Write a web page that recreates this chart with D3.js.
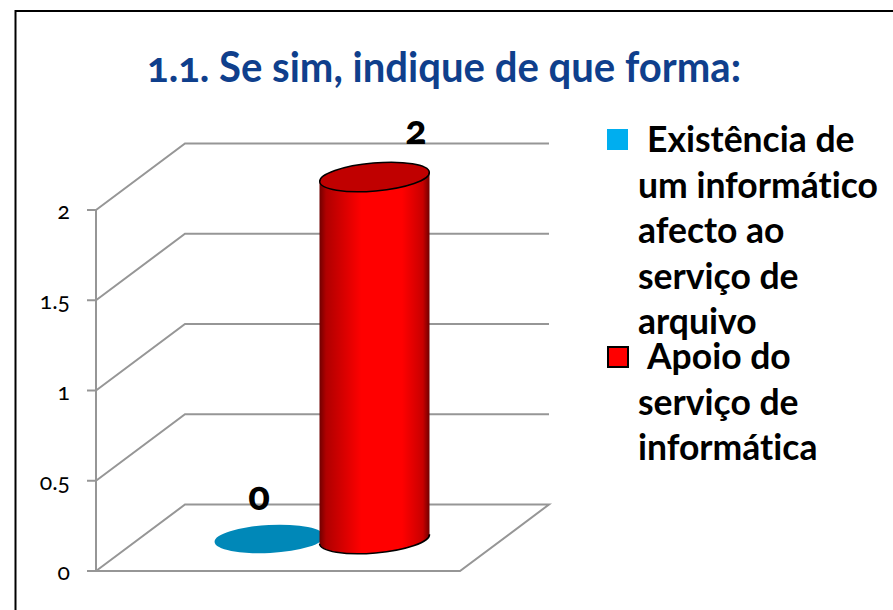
<!DOCTYPE html>
<html><head><meta charset="utf-8">
<script src="https://cdn.jsdelivr.net/npm/d3@7"></script>
<style>html,body{margin:0;padding:0;background:#fff;overflow:hidden}svg{display:block}text{font-family:Lato,"Open Sans",sans-serif;font-variant-numeric:oldstyle-nums;font-variant-ligatures:none;font-feature-settings:"onum" 1,"liga" 0}</style>
</head><body><svg id="c" width="893" height="610"></svg>
<script>
const title = "1.1. Se sim, indique de que forma:";
const categories = ["Existência de um informático afecto ao serviço de arquivo", "Apoio do serviço de informática"];
const seriesValues = [0, 2];
const dataLabels = ["0", "2"];
const tickValues = [0, 0.5, 1, 1.5, 2];
const tickLabels = ["0", "0.5", "1", "1.5", "2"];
const legendLines = [["Existência de", "um informático", "afecto ao", "serviço de", "arquivo"], ["Apoio do", "serviço de", "informática"]];
const colors = ["#00aeef", "#ff0000"];

const svg = d3.select("#c");
svg.append("path").attr("d", "M15.5,610V11H893").attr("fill", "none").attr("stroke", "#000").attr("stroke-width", 2);

svg.append("text").attr("x", 147).attr("y", 82).attr("font-size", 42).attr("font-weight", 700)
  .attr("fill", "#0f3f8c").attr("textLength", 594).attr("lengthAdjust", "spacingAndGlyphs").text(title);

const y = d3.scaleLinear().domain([0, 2]).range([571, 210]);
const depth = {x: 89, y: -66.5};
const x0 = 96, floorW = 364;
const grid = "#969696";

const gGrid = svg.append("g").attr("fill", "none").attr("stroke", grid).attr("stroke-width", 2);
gGrid.selectAll("path.g").data(tickValues.filter(v => v > 0)).join("path")
  .attr("d", v => `M${x0},${y(v)}L${x0 + depth.x},${y(v) + depth.y}H${x0 + depth.x + floorW}`);
gGrid.append("path").attr("d", `M${x0},${y(0)}L${x0 + depth.x},${y(0) + depth.y}H${x0 + depth.x + floorW}L${x0 + floorW},${y(0)}H${x0}`);
gGrid.append("path").attr("d", `M${x0},${y(2)}V${y(0)}`);
gGrid.selectAll("path.t").data(tickValues).join("path").attr("class", "t").attr("d", v => `M${x0 - 9},${y(v)}H${x0}`);

svg.append("g").selectAll("text").data(tickValues).join("text")
  .attr("x", 70).attr("y", v => y(v) + 9).attr("text-anchor", "end").attr("font-size", 23).attr("fill", "#000")
  .text((v, i) => tickLabels[i]);

const xBand = d3.scaleBand().domain(categories).range([215, 429]).paddingInner(0);
const defs = svg.append("defs");
const grad = defs.append("linearGradient").attr("id", "cyl");
[[0, "#700000"], [0.06, "#b00000"], [0.38, "#ff0000"], [0.75, "#ff0000"], [0.94, "#c80000"], [1, "#700000"]]
  .forEach(s => grad.append("stop").attr("offset", s[0]).attr("stop-color", s[1]));

const rx = 55, ry = 14, tilt = -5, lift = 33;
categories.forEach((c, i) => {
  const v = seriesValues[i];
  const cx = xBand(c) + xBand.bandwidth() / 2 + (i === 0 ? 1 : -1);
  const base = y(0) - lift, top = y(v) - lift;
  if (v === 0) {
    svg.append("ellipse").attr("rx", rx).attr("ry", ry).attr("fill", "#0088b8")
      .attr("transform", `translate(${cx},${base + 1}) rotate(-3)`);
  } else {
    const dx = rx, dy = rx * Math.sin(tilt * Math.PI / 180);
    const b = base + 1;
    svg.append("path")
      .attr("d", `M${cx - dx},${top - dy}L${cx - dx},${b - dy}
        A${rx},${ry} ${tilt} 0 0 ${cx + dx},${b + dy}L${cx + dx},${top + dy}
        A${rx},${ry} ${tilt} 0 0 ${cx - dx},${top - dy}Z`)
      .attr("fill", "url(#cyl)");
    svg.append("path")
      .attr("d", `M${cx - dx},${b - dy}A${rx},${ry} ${tilt} 0 0 ${cx + dx},${b + dy}`)
      .attr("fill", "none").attr("stroke", "#000").attr("stroke-width", 1.5);
    svg.append("ellipse").attr("rx", rx).attr("ry", ry).attr("fill", "#c00000").attr("stroke", "#000").attr("stroke-width", 1.5)
      .attr("transform", `translate(${cx},${top}) rotate(${tilt})`);
  }
});

svg.append("g").selectAll("text").data(seriesValues).join("text")
  .attr("x", (v, i) => i === 0 ? 259 : 416).attr("y", (v, i) => i === 0 ? 510 : 144)
  .attr("text-anchor", "middle").attr("font-size", 40).attr("font-weight", 900).attr("fill", "#000")
  .text((v, i) => dataLabels[i]);

const legY = [152, 369];
const lh = 45.5;
legendLines.forEach((lines, i) => {
  svg.append("rect").attr("x", i ? 608 : 607).attr("y", legY[i] - 23 + (i ? 1 : 0)).attr("width", i ? 20 : 21).attr("height", i ? 20 : 21)
    .attr("fill", colors[i]).attr("stroke", i ? "#000" : "none").attr("stroke-width", 2);
  svg.append("g").selectAll("text").data(lines).join("text")
    .attr("x", (d, j) => j === 0 ? 647 : 638).attr("y", (d, j) => legY[i] + j * lh)
    .attr("font-size", 35.5).attr("font-weight", 700).attr("fill", "#000")
    .text(d => d);
});
</script></body></html>
